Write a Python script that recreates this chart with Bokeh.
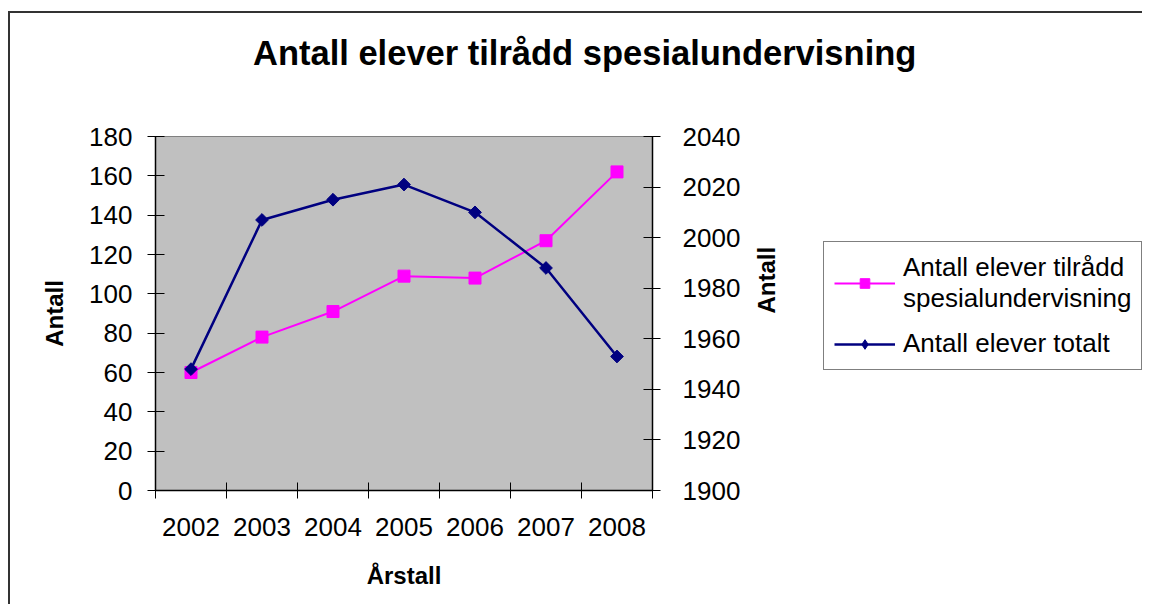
import math
from bokeh.plotting import figure
from bokeh.layouts import row, column
from bokeh.models import (Range1d, FactorRange, LinearAxis, CategoricalAxis,
                          FixedTicker, Legend, LegendItem, Div)
from bokeh.embed import file_html
from bokeh.resources import INLINE

years = ["2002", "2003", "2004", "2005", "2006", "2007", "2008"]
tilradd = [60, 78, 91, 109, 108, 127, 162]
totalt = [1948, 2007, 2015, 2021, 2010, 1988, 1953]
left_ticks = [0, 20, 40, 60, 80, 100, 120, 140, 160, 180]
right_ticks = [1900, 1920, 1940, 1960, 1980, 2000, 2020, 2040]
# category boundaries in the factor range's synthetic coordinates
edge_ticks = list(range(len(years) + 1))

title_text = "Antall elever tilrådd spesialundervisning"
label_tilradd = "Antall elever tilrådd\nspesialundervisning"
label_totalt = "Antall elever totalt"

FONT = "Liberation Sans"
PINK = "#FF00FF"
NAVY = "#000080"

# title across the whole chart width
title_div = Div(
    text=('<div style="font-family: \'Liberation Sans\'; font-size: 34.5px; '
          'font-weight: bold; line-height: 80px; padding-left: 243px; '
          'white-space: nowrap; color: black;">' + title_text + '</div>'),
    width=1132, height=80, margin=0)

p = figure(width=790, height=511, title=None,
           x_range=FactorRange(*years, range_padding=0),
           y_range=Range1d(0, 180),
           x_axis_type=None, y_axis_type=None,
           output_backend="svg", toolbar_location=None,
           min_border_left=145, min_border_right=148,
           min_border_top=43, min_border_bottom=114)
p.extra_y_ranges = {"right": Range1d(1900, 2040)}

p.background_fill_color = "#C0C0C0"
p.border_fill_color = "white"
p.outline_line_color = "#808080"
p.outline_line_width = 1

def style_axis(ax, size="26px"):
    ax.axis_line_color = "black"
    ax.axis_line_width = 1.5
    ax.major_tick_line_color = "black"
    ax.major_tick_line_width = 1
    ax.minor_tick_line_color = None
    ax.major_label_text_font = FONT
    ax.major_label_text_font_size = size
    ax.major_label_text_color = "black"
    ax.axis_label_text_font = FONT
    ax.axis_label_text_font_size = "24px"
    ax.axis_label_text_font_style = "bold"
    ax.axis_label_text_color = "black"

yl = LinearAxis(ticker=FixedTicker(ticks=left_ticks), axis_label="Antall")
style_axis(yl)
yl.major_tick_in = 9
yl.major_tick_out = 8
yl.major_label_standoff = 15
yl.axis_label_standoff = 18
p.add_layout(yl, "left")

yr = LinearAxis(y_range_name="right", ticker=FixedTicker(ticks=right_ticks),
                axis_label="Antall")
style_axis(yr)
yr.major_tick_in = 9
yr.major_tick_out = 8
yr.major_label_standoff = 22
yr.axis_label_standoff = 23
yr.axis_label_orientation = math.pi / 2
p.add_layout(yr, "right")

xe = LinearAxis(ticker=FixedTicker(ticks=edge_ticks))
style_axis(xe, "0px")
xe.major_tick_in = 8
xe.major_tick_out = 8
xe.major_label_standoff = 0
p.add_layout(xe, "below")

xc = CategoricalAxis(axis_label="Årstall")
style_axis(xc)
xc.axis_line_color = None
xc.major_tick_line_color = None
xc.major_tick_in = 0
xc.major_tick_out = 0
xc.major_label_standoff = 19
xc.axis_label_standoff = 23
p.add_layout(xc, "below")

p.line(years, tilradd, line_color=PINK, line_width=2)
p.scatter(years, tilradd, marker="square", size=12,
          fill_color=PINK, line_color=PINK)
p.line(years, totalt, y_range_name="right", line_color=NAVY, line_width=2.5)
p.scatter(years, totalt, y_range_name="right", marker="square",
          angle=math.pi / 4, size=9, fill_color=NAVY, line_color=NAVY)

# legend panel: a second canvas to the right, holding the legend
q = figure(width=342, height=511, title=None,
           x_range=FactorRange(*years), y_range=Range1d(0, 180),
           x_axis_type=None, y_axis_type=None,
           output_backend="svg", toolbar_location=None,
           min_border=0, outline_line_color=None,
           background_fill_color="white", border_fill_color="white")
q.extra_y_ranges = {"right": Range1d(1900, 2040)}
ql = q.line(years, tilradd, line_color=PINK, line_width=2, visible=False)
qs = q.scatter(years, tilradd, marker="square", size=12,
               fill_color=PINK, line_color=PINK, visible=False)
bl = q.line(years, totalt, y_range_name="right", line_color=NAVY,
            line_width=2.5, visible=False)
bs = q.scatter(years, totalt, y_range_name="right", marker="diamond",
               size=15, fill_color=NAVY, line_color=NAVY, visible=False)

legend = Legend(items=[
    LegendItem(label=label_tilradd, renderers=[ql, qs]),
    LegendItem(label=label_totalt, renderers=[bl, bs]),
], location=(23, 120), click_policy="none")
legend.border_line_color = "black"
legend.border_line_width = 1
legend.background_fill_color = "white"
legend.background_fill_alpha = 1
legend.padding = 10
legend.spacing = 14
legend.margin = 0
legend.glyph_width = 61
legend.glyph_height = 24
legend.label_standoff = 8
legend.label_text_font = FONT
legend.label_text_font_size = "26px"
legend.label_text_color = "black"
q.add_layout(legend, "center")

layout = column(title_div, row(p, q, spacing=0), spacing=0)
layout.styles = {"border-top": "2px solid #333", "border-left": "2px solid #333",
                 "margin-top": "11px", "margin-left": "8px"}

open("out.html", "w").write(file_html(layout, INLINE))
